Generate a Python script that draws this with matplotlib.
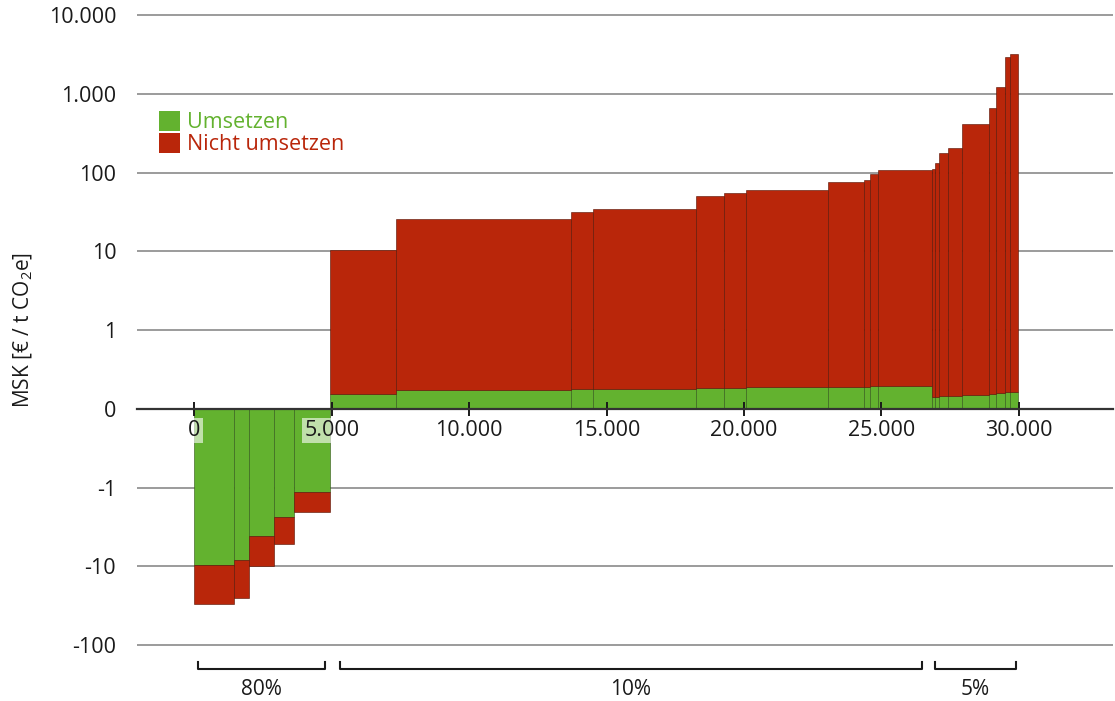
#!/usr/bin/env python

# Marginal abatement cost curve (MSK) with a log-like y axis
#  that is linear between -1 and 1.

import numpy as np
import matplotlib
matplotlib.use('Agg')
import matplotlib.pyplot as plt
from matplotlib.patches import Patch
from matplotlib.ticker import FixedLocator, FuncFormatter

# cumulative abatement at the end of each measure (t CO2e)
mac_edges = [0, 1456, 1980, 2910, 3640, 4920, 7330, 13700, 14500, 18270,
             19260, 20090, 23070, 24380, 24600, 24890, 26860, 26970, 27110,
             27440, 27930, 28910, 29160, 29510, 29680, 29990]
# cost for "Umsetzen" part (green) and total with "Nicht umsetzen" (red)
cost_green = [-9.7, -8.4, -4.1, -2.35, -1.13, 0.19, 0.235, 0.25, 0.255,
              0.264, 0.268, 0.277, 0.28, 0.283, 0.29, 0.296, 0.146, 0.15,
              0.159, 0.159, 0.175, 0.184, 0.197, 0.21, 0.213]
cost_total = [-30.3, -25.6, -10.0, -5.2, -2.07, 10.4, 25.6, 31.4, 34.9,
              50.1, 55.7, 60.8, 76.2, 81.5, 96.3, 106.6, 112.5, 131.6,
              177.8, 208, 420, 658, 1217, 2980, 3250]

y_ticks = [-100, -10, -1, 0, 1, 10, 100, 1000, 10000]
x_ticks = [0, 5000, 10000, 15000, 20000, 25000, 30000]

# share brackets below the chart
group_start = [120, 5290, 26940]
group_end = [4760, 26480, 29890]
group_label = ['80%', '10%', '5%']

green = '#63b22f'
red = '#b9260a'

plt.rcParams['font.family'] = ['Open Sans', 'DejaVu Sans']
plt.rcParams['mathtext.default'] = 'regular'


def fwd(v):
    v = np.asarray(v, dtype=float)
    a = np.abs(v)
    return np.where(a < 1, v, np.sign(v) * (1 + np.log10(np.maximum(a, 1))))


def inv(u):
    u = np.asarray(u, dtype=float)
    a = np.abs(u)
    return np.where(a < 1, u, np.sign(u) * 10 ** (np.maximum(a, 1) - 1))


def dotted(v, pos=None):
    return '{:,.0f}'.format(v).replace(',', '.')


fig = plt.figure(figsize=(11.15, 7.01), dpi=100)
ax = fig.add_axes([0.1229, 0.0766, 0.8753, 0.905])
ax.set_yscale('function', functions=(fwd, inv))

edges = np.array(mac_edges, dtype=float)
left = edges[:-1]
width = np.diff(edges)
g = np.array(cost_green)
t = np.array(cost_total)

ax.bar(left, g, width=width, align='edge', color=green,
       edgecolor=(0.2, 0.35, 0.1, 0.6), linewidth=0.7, zorder=1)
ax.bar(left, t - g, bottom=g, width=width, align='edge', color=red,
       edgecolor=(0.35, 0.08, 0.02, 0.6), linewidth=0.7, zorder=1)

ax.set_xlim(-2085, 33430)
ax.set_ylim(float(inv(-3.03)), float(inv(5.03)))

# horizontal grid, under the bars
for yv in y_ticks:
    if yv != 0:
        ax.axhline(yv, color='#8a8a8a', linewidth=1.2, zorder=0)

for s in ['left', 'right', 'top']:
    ax.spines[s].set_visible(False)
ax.spines['bottom'].set_position(('data', 0))
ax.spines['bottom'].set_color('#333333')
ax.spines['bottom'].set_linewidth(1.6)

ax.yaxis.set_major_locator(FixedLocator(y_ticks))
ax.yaxis.set_minor_locator(FixedLocator([]))
ax.yaxis.set_major_formatter(FuncFormatter(dotted))
ax.tick_params(axis='y', length=0, pad=15, labelsize=15.5, labelcolor='#1a1a1a')

ax.xaxis.set_major_locator(FixedLocator(x_ticks))
ax.xaxis.set_major_formatter(FuncFormatter(dotted))
ax.tick_params(axis='x', direction='inout', length=10, width=1.4,
               color='#1a1a1a', pad=3, labelsize=15.5, labelcolor='#1a1a1a')
for lab in ax.get_xticklabels():
    lab.set_bbox(dict(facecolor='white', alpha=0.6, edgecolor='none', pad=1.5))

ax.set_ylabel('MSK [€ / t CO$_2$e]', fontsize=15, color='#1a1a1a', labelpad=10)

handles = [Patch(facecolor=green, edgecolor='none'),
           Patch(facecolor=red, edgecolor='none')]
ax.legend(handles, ['Umsetzen', 'Nicht umsetzen'], loc='upper left',
          bbox_to_anchor=(0.023, 0.846), frameon=False, fontsize=15.5,
          labelcolor=[green, red], handlelength=0.95, handleheight=1.05,
          handletextpad=0.35, labelspacing=0.0, borderpad=0, borderaxespad=0)

# brackets showing the shares
tr = ax.get_xaxis_transform()
for x0, x1, lab in zip(group_start, group_end, group_label):
    ax.plot([x0, x0, x1, x1], [-0.023, -0.034, -0.034, -0.023], color='#1a1a1a',
            linewidth=1.5, transform=tr, clip_on=False)
    ax.text((x0 + x1) / 2, -0.066, lab, transform=tr, ha='center', va='center',
            fontsize=15, color='#1a1a1a',
            family=['Liberation Sans Narrow', 'Open Sans', 'DejaVu Sans'])

fig.savefig('out.png')
